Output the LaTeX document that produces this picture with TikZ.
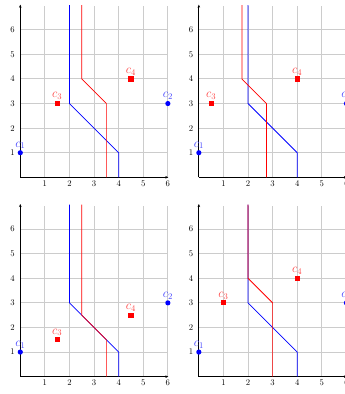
\documentclass[tikz,border=0pt]{standalone}
\usetikzlibrary{arrows.meta}
\tikzset{
  gridline/.style={gray!40, line width=1.1pt},
  axisline/.style={black, line width=1pt, -{Stealth[length=3.5pt,width=3pt]}},
  bluepath/.style={blue, line width=0.85pt},
  redpath/.style={red, line width=0.85pt},
  bdot/.style={circle, fill=blue, inner sep=0pt, minimum size=6pt},
  rsq/.style={rectangle, fill=red, inner sep=0pt, minimum size=6pt},
  blab/.style={text=blue!75, font=\Large},
  rlab/.style={text=red!75, font=\Large},
  ticklab/.style={font=\normalsize, inner sep=2pt},
}
% #1 prefix, #2 shift, #3 red upper x, #4 red knee y, #5 c3, #6 c4
\newcommand\drawpanel[6]{%
\begin{scope}[shift={#2}]
  \draw[gridline] (0,0) grid (6,6.95);
  \coordinate (#1o) at (0,0);
  \coordinate (#1xe) at (6.02,0);
  \coordinate (#1ye) at (0,7.02);
  \draw[axisline] (#1o) -- (#1xe);
  \draw[axisline] (#1o) -- (#1ye);
  \foreach \i in {1,...,6}{
    \node[ticklab, anchor=north] (#1x\i) at (\i,-0.05) {\i};
    \node[ticklab, anchor=east] (#1y\i) at (-0.15,\i) {\i};
  }
  % blue path
  \coordinate (#1b1) at (2,7);
  \coordinate (#1b2) at (2,3);
  \coordinate (#1b3) at (4,1);
  \coordinate (#1b4) at (4,0);
  \draw[bluepath] (#1b1) -- (#1b2) -- (#1b3) -- (#1b4);
  % red path
  \coordinate (#1r1) at (#3,7);
  \coordinate (#1r2) at (#3,#4);
  \coordinate (#1r3) at ({#3+1},{#4-1});
  \coordinate (#1r4) at ({#3+1},0);
  \draw[redpath] (#1r1) -- (#1r2) -- (#1r3) -- (#1r4);
  % points
  \node[bdot, label={[blab, inner sep=1pt]above:$c_1$}] (#1c1) at (0,1) {};
  \node[bdot, label={[blab, inner sep=1pt]above:$c_2$}] (#1c2) at (6,3) {};
  \node[rsq, label={[rlab, inner sep=1pt]above:$c_3$}] (#1c3) at #5 {};
  \node[rsq, label={[rlab, inner sep=1pt]above:$c_4$}] (#1c4) at #6 {};
\end{scope}}
\begin{document}
\begin{tikzpicture}
  \useasboundingbox (-0.825,-8.81) rectangle (13.2,7.21);
  \drawpanel{A}{(0,0)}{2.5}{4}{(1.5,3)}{(4.5,4)}
  \drawpanel{B}{(7.26,0)}{1.75}{4}{(0.5,3)}{(4,4)}
  \drawpanel{C}{(0,-8.105)}{2.5}{2.5}{(1.5,1.5)}{(4.5,2.5)}
  \drawpanel{D}{(7.26,-8.105)}{2}{4}{(1,3)}{(4,4)}
\end{tikzpicture}
\end{document}
